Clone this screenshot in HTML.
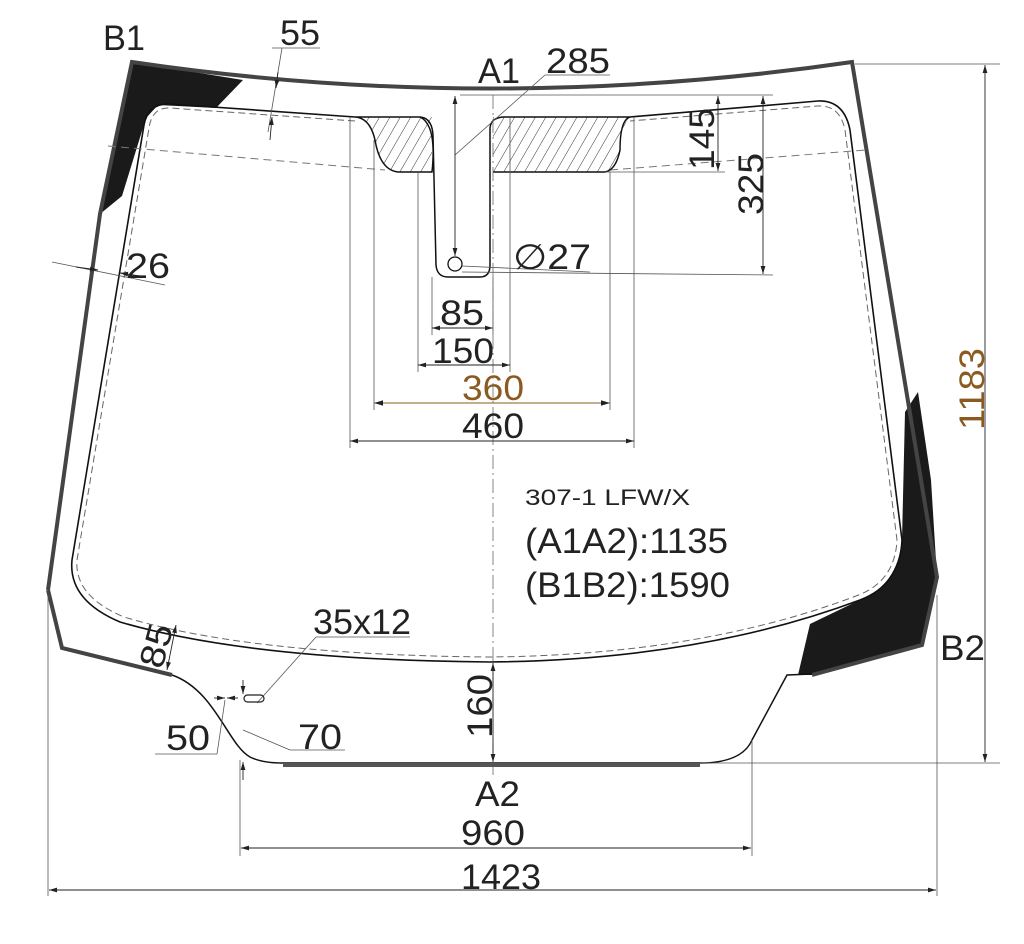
<!DOCTYPE html>
<html><head><meta charset="utf-8"><style>
html,body{margin:0;padding:0;background:#fff}
svg{display:block}
text{font-family:"Liberation Sans",Arial,sans-serif;fill:#222}
</style></head><body>
<svg width="1024" height="944" viewBox="0 0 1024 944" xmlns="http://www.w3.org/2000/svg">
<defs>
<pattern id="h" width="9" height="9" patternUnits="userSpaceOnUse" patternTransform="rotate(30)">
<line x1="0" y1="0" x2="0" y2="9" stroke="#333" stroke-width="1"/></pattern>
<marker id="a" viewBox="0 0 10 10" refX="10" refY="5" markerWidth="9" markerHeight="9" orient="auto-start-reverse"><path d="M0,2 L10,5 L0,8z" fill="#222"/></marker>
</defs>

<path d="M132,62 L243,80 L216,108 L158,105 L146,118 L122,196 L100,214 Z" fill="#1a1a1a"/>
<path d="M905,412 L918,392 L931,480 L937,577 L922,645 L812,675 L798,675 L810,624 L868,596 Q898,580 902,540 Z" fill="#1a1a1a"/>

<path d="M48,590 L100,214 L132,62 Q490,115 852,62 L937,577 L922,645 L812,675" fill="none" stroke="#444" stroke-width="4"/>
<path d="M48,590 L62,648 L172,675" fill="none" stroke="#444" stroke-width="4"/>
<path d="M172,675 C215,690 228,745 250,757 Q262,763 283,763 L700,763 Q742,763 752,740 L787,675 L812,674" fill="none" stroke="#111" stroke-width="1.5"/>
<line x1="283" y1="765" x2="700" y2="765" stroke="#555" stroke-width="4"/>

<path d="M355,117 L170,104 Q148,103 144,125 L72,560 Q68,600 120,622 Q250,660 490,662 Q700,660 860,600 Q900,585 902,540 L850,130 Q844,100 818,101 L630,117" fill="none" stroke="#111" stroke-width="1.6"/>
<path d="M355,121 L170,108 Q152,107 149,128 L77,560 Q74,596 124,617 Q250,655 490,657 Q700,655 856,596 Q895,582 897,540 L845,130 Q840,105 818,106 L630,121" fill="none" stroke="#666" stroke-width="1" stroke-dasharray="7,4"/>
<path d="M108,146 L385,170 M610,170 L866,150" fill="none" stroke="#777" stroke-width="1" stroke-dasharray="8,5"/>

<path d="M355,117 Q370,118 375,140 Q380,170 398,172 L432,172 L432,117 Z" fill="url(#h)"/>
<path d="M493,117 L493,172 L605,172 Q616,170 620,150 Q624,120 630,117 Z" fill="url(#h)"/>
<path d="M355,117 Q370,118 375,140 Q380,170 398,172 L432,172 Q437,125 420,117 M355,117 L420,117" fill="none" stroke="#111" stroke-width="1.5"/>
<path d="M420,117 Q432,118 433,135 L436,265 Q437,277 448,277 L480,277 Q490,277 490,265 L490,128 Q491,117 505,117 L630,117 Q620,120 620,150 Q616,170 605,172 L493,172" fill="none" stroke="#111" stroke-width="1.5"/>
<circle cx="455" cy="264" r="7" fill="none" stroke="#111" stroke-width="1.3"/>

<g stroke="#555" stroke-width="0.8" fill="none">
<line x1="350" y1="117" x2="350" y2="448"/><line x1="374" y1="140" x2="374" y2="410"/>
<line x1="418" y1="172" x2="418" y2="372"/><line x1="432" y1="277" x2="432" y2="335"/>
<line x1="493" y1="277" x2="493" y2="335"/><line x1="510" y1="117" x2="510" y2="372"/>
<line x1="610" y1="172" x2="610" y2="410"/><line x1="634" y1="117" x2="634" y2="448"/>
<line x1="460" y1="95" x2="773" y2="95"/><line x1="605" y1="172" x2="725" y2="172"/>
<line x1="462" y1="272" x2="773" y2="275"/>
<line x1="855" y1="64" x2="1000" y2="64"/><line x1="700" y1="763" x2="1000" y2="763"/>
<line x1="48" y1="595" x2="48" y2="896"/><line x1="937" y1="595" x2="937" y2="896"/>
<line x1="240" y1="760" x2="240" y2="856"/><line x1="752" y1="740" x2="752" y2="856"/>
<line x1="455" y1="155" x2="545" y2="75"/><line x1="545" y1="75" x2="610" y2="75"/>
<line x1="462" y1="266" x2="590" y2="272"/>
<line x1="272" y1="48" x2="320" y2="48"/><line x1="282" y1="48" x2="268" y2="132"/>
<line x1="52" y1="262" x2="165" y2="285"/>
<line x1="257" y1="703" x2="316" y2="637"/><line x1="316" y1="637" x2="410" y2="637"/>
<line x1="243" y1="730" x2="290" y2="750"/><line x1="290" y1="750" x2="345" y2="750"/>
<line x1="217" y1="754" x2="225" y2="700"/><line x1="155" y1="754" x2="217" y2="754"/>
</g>
<line x1="493" y1="95" x2="493" y2="775" stroke="#666" stroke-width="0.8" stroke-dasharray="14,4,2,4"/>

<g stroke="#222" stroke-width="0.9" fill="none" marker-start="url(#a)" marker-end="url(#a)">
<line x1="432" y1="328" x2="493" y2="328"/><line x1="418" y1="365" x2="510" y2="365"/>
<line x1="350" y1="441" x2="634" y2="441"/>
<line x1="718" y1="96" x2="718" y2="171"/><line x1="763" y1="96" x2="763" y2="274"/>
<line x1="985" y1="65" x2="985" y2="762"/>
<line x1="241" y1="848" x2="751" y2="848"/><line x1="49" y1="890" x2="936" y2="890"/>
<line x1="455" y1="96" x2="455" y2="256"/>
<line x1="493" y1="663" x2="493" y2="762"/>
<line x1="176" y1="625" x2="167" y2="670"/>
</g>
<line x1="374" y1="403" x2="610" y2="403" stroke="#8a5a20" stroke-width="1" marker-start="url(#a)" marker-end="url(#a)"/>
<g stroke="#222" stroke-width="0.9" marker-end="url(#a)">
<line x1="278" y1="72" x2="276" y2="88"/><line x1="270" y1="140" x2="272" y2="117"/>
<line x1="76" y1="267" x2="98" y2="270"/><line x1="140" y1="276" x2="120" y2="273"/>
<line x1="214" y1="698" x2="225" y2="698"/><line x1="238" y1="698" x2="227" y2="698"/>
<line x1="243" y1="680" x2="243" y2="694"/><line x1="243" y1="780" x2="243" y2="762"/>
</g>
<rect x="244" y="695" width="20" height="7" rx="3.5" fill="none" stroke="#222" stroke-width="1.2"/>

<g font-size="35" lengthAdjust="spacingAndGlyphs">
<text x="103" y="50" textLength="42" lengthAdjust="spacingAndGlyphs">B1</text>
<text x="280" y="45" textLength="40" lengthAdjust="spacingAndGlyphs">55</text>
<text x="478" y="83" textLength="42" lengthAdjust="spacingAndGlyphs">A1</text>
<text x="546" y="73" textLength="64" lengthAdjust="spacingAndGlyphs">285</text>
<text x="513" y="269" textLength="78" lengthAdjust="spacingAndGlyphs">∅27</text>
<text x="126" y="278" textLength="44" lengthAdjust="spacingAndGlyphs">26</text>
<text x="440" y="325" textLength="44" lengthAdjust="spacingAndGlyphs">85</text>
<text x="432" y="363" textLength="62" lengthAdjust="spacingAndGlyphs">150</text>
<text x="462" y="400" textLength="62" lengthAdjust="spacingAndGlyphs" style="fill:#8a5a20">360</text>
<text x="462" y="438" textLength="62" lengthAdjust="spacingAndGlyphs">460</text>
<text x="525" y="553" textLength="203" lengthAdjust="spacingAndGlyphs">(A1A2):1135</text>
<text x="525" y="597" textLength="205" lengthAdjust="spacingAndGlyphs">(B1B2):1590</text>
<text x="940" y="660" textLength="45" lengthAdjust="spacingAndGlyphs">B2</text>
<text x="313" y="634" textLength="98" lengthAdjust="spacingAndGlyphs">35x12</text>
<text x="166" y="750" textLength="44" lengthAdjust="spacingAndGlyphs">50</text>
<text x="298" y="749" textLength="44" lengthAdjust="spacingAndGlyphs">70</text>
<text x="475" y="806" textLength="45" lengthAdjust="spacingAndGlyphs">A2</text>
<text x="461" y="845" textLength="64" lengthAdjust="spacingAndGlyphs">960</text>
<text x="461" y="889" textLength="80" lengthAdjust="spacingAndGlyphs">1423</text>
<text transform="translate(714,170) rotate(-90)" textLength="62" lengthAdjust="spacingAndGlyphs">145</text>
<text transform="translate(763,215) rotate(-90)" textLength="62" lengthAdjust="spacingAndGlyphs">325</text>
<text transform="translate(984,430) rotate(-90)" textLength="82" lengthAdjust="spacingAndGlyphs" style="fill:#8a5a20">1183</text>
<text transform="translate(162,670) rotate(-75)" textLength="44" lengthAdjust="spacingAndGlyphs">85</text>
<text transform="translate(492,738) rotate(-90)" textLength="64" lengthAdjust="spacingAndGlyphs">160</text>
</g>
<text x="525" y="505" font-size="22" textLength="165" lengthAdjust="spacingAndGlyphs">307-1 LFW/X</text>
</svg>
</body></html>
